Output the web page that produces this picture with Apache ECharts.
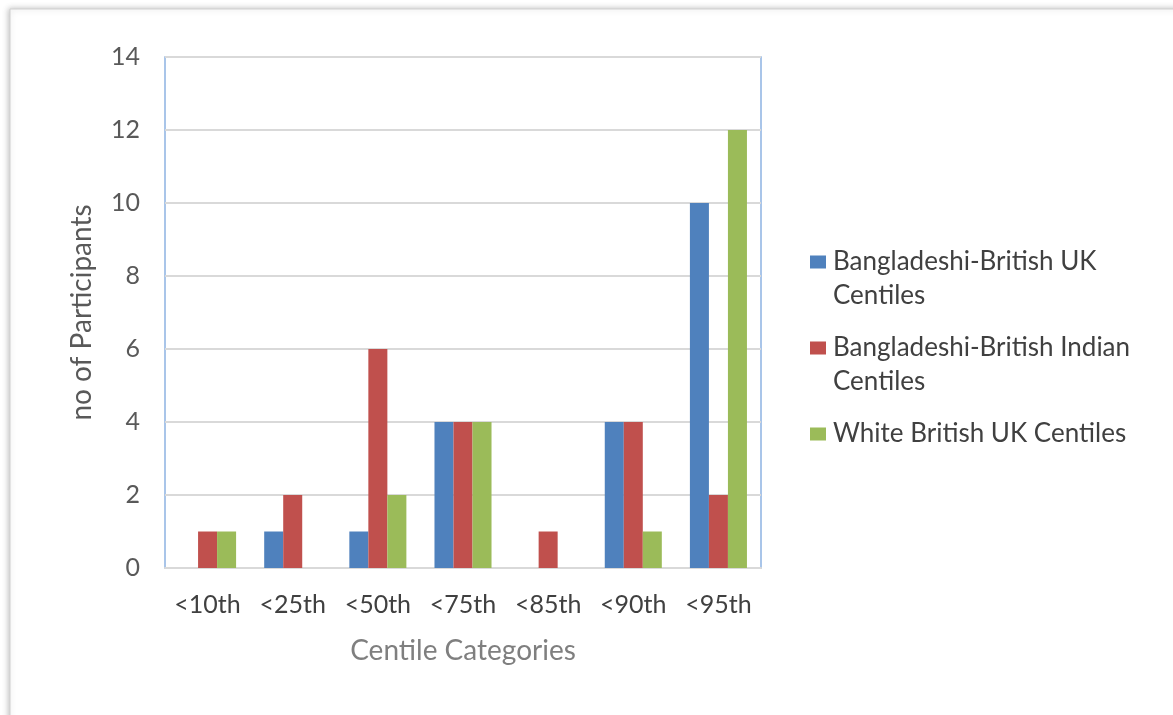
<!DOCTYPE html>
<html><head><meta charset="utf-8">
<script src="https://cdn.jsdelivr.net/npm/echarts@6/dist/echarts.min.js"></script>
<style>html,body{margin:0;padding:0;background:#fff}#c{width:1173px;height:715px}</style>
</head><body><div id="c"></div>
<script>
const categories = ['<10th','<25th','<50th','<75th','<85th','<90th','<95th'];
const seriesNames = ['Bangladeshi-British UK Centiles','Bangladeshi-British Indian Centiles','White British UK Centiles'];
const legendLabels = ['Bangladeshi-British UK\nCentiles','Bangladeshi-British Indian\nCentiles','White British UK Centiles'];
const ukValues = [0,1,1,4,0,4,10];
const indianValues = [1,2,6,4,1,4,2];
const whiteValues = [1,0,2,4,0,1,12];
const yTicks = [0,2,4,6,8,10,12,14];
const colors = ['#4f81bd','#c0504d','#9bbb59'];

const FONT = 'Lato';
const twoLineIcon = 'path://M0,0L0.01,0M0,10.5L16,10.5L16,23.5L0,23.5ZM0,68L0.01,68';
const oneLineIcon = 'path://M0,0L0.01,0M0,10.5L16,10.5L16,23.5L0,23.5ZM0,34L0.01,34';

const chart = echarts.init(document.getElementById('c'));
const allSeries = [ukValues, indianValues, whiteValues];
chart.setOption({
  animation:false,
  backgroundColor:'#fff',
  textStyle:{fontFamily:FONT},
  graphic:[{type:'rect',shape:{x:10,y:9,width:1200,height:760},
    style:{fill:'#fff',stroke:'#d0d0d0',lineWidth:1,shadowBlur:6,shadowColor:'rgba(0,0,0,0.25)',shadowOffsetX:-1,shadowOffsetY:0},z:-10}],
  grid:{left:165,top:57,width:596,height:511,show:true,borderColor:'#8db3e2',borderWidth:1.5,backgroundColor:'transparent'},
  legend:{
    orient:'vertical',left:805,top:240,itemGap:18,
    itemWidth:16,
    data:seriesNames.map((n,i)=>({name:n,icon:i<2?twoLineIcon:oneLineIcon,itemHeight:i<2?68:34})),
    itemHeight:68,
    formatter:function(name){return legendLabels[seriesNames.indexOf(name)];},
    textStyle:{fontFamily:FONT,fontSize:26,color:'#404040',lineHeight:34,padding:[0,0,0,2]},
    selectedMode:false
  },
  xAxis:{type:'category',data:categories,
    name:'Centile Categories',nameLocation:'middle',nameGap:69,
    nameTextStyle:{fontFamily:FONT,fontSize:28,color:'#7f7f7f'},
    axisLine:{lineStyle:{color:'#d9d9d9',width:2}},axisTick:{show:false},
    axisLabel:{interval:0,fontFamily:FONT,fontSize:25,color:'#404040',margin:24}},
  yAxis:{type:'value',min:0,max:14,interval:2,
    name:'no of Participants',nameLocation:'middle',nameGap:69,nameRotate:90,
    nameTextStyle:{fontFamily:FONT,fontSize:28,color:'#595959'},
    axisLine:{show:false},axisTick:{show:false},
    axisLabel:{fontFamily:FONT,fontSize:25,color:'#595959',margin:25,
      formatter:function(v){return yTicks.indexOf(v)>=0?String(v):'';}},
    splitLine:{lineStyle:{color:'#d9d9d9',width:2}}},
  series:allSeries.map((d,i)=>({type:'bar',name:seriesNames[i],data:d,
    itemStyle:{color:colors[i]},barGap:'0%',barCategoryGap:'33%'}))
});
</script></body></html>
